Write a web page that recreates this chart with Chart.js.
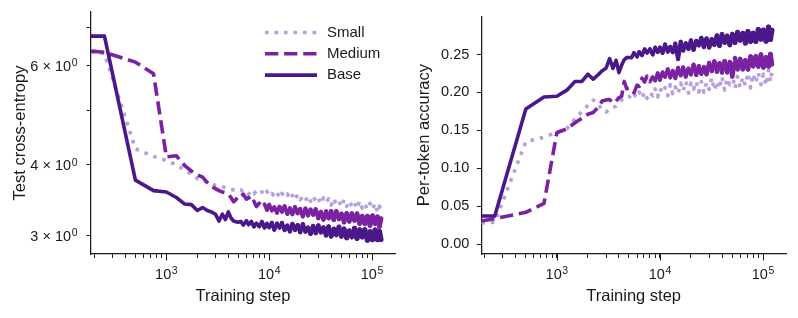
<!DOCTYPE html>
<html>
<head>
<meta charset="utf-8">
<script src="https://cdn.jsdelivr.net/npm/chart.js@4.4.1/dist/chart.umd.min.js"></script>
<style>
  body { margin: 0; background: #fff; }
  #wrap { position: relative; width: 798px; height: 318px; }
  canvas { position: absolute; top: 0; }
  #loss { left: 0; }
  #acc { left: 400px; }
</style>
</head>
<body>
<div id="wrap">
  <canvas id="loss" width="400" height="318"></canvas>
  <canvas id="acc" width="398" height="318"></canvas>
</div>
<script>
// evaluation steps shared by every curve
const steps = [185, 250, 500, 750, 1000, 1250, 1500, 1750, 2000, 2250, 2500, 2750, 3000, 3250, 3500, 3750, 4000, 4250, 4500, 4750, 5000,
  5300, 5600, 6000, 6300, 6700, 7100, 7500, 8000, 8500, 9000, 9500, 10000, 10600, 11200, 11900, 12600, 13300, 14100, 15000, 15900,
  16800, 17800, 18900, 20000, 21200, 22500, 23800, 25200, 26700, 28300, 30000, 31800, 33700, 35700, 37800, 40000, 42400, 44900, 47600,
  50400, 53400, 56600, 60000, 63600, 67400, 71400, 75700, 80200, 85000, 90000, 95400, 101000, 107000, 113000, 118000, 122000];

// test cross-entropy
const lossSmall = [6.33, 6.30, 4.27, 4.14, 4.07, 4.00, 3.92, 3.85, 3.78, 3.76, 3.72, 3.70, 3.68, 3.67, 3.66, 3.64, 3.63, 3.62, 3.61, 3.60, 3.60,
  3.611, 3.573, 3.590, 3.551, 3.596, 3.552, 3.598, 3.557, 3.582, 3.532, 3.589, 3.524, 3.559, 3.519, 3.576, 3.493, 3.559, 3.508, 3.554, 3.476,
  3.532, 3.461, 3.545, 3.469, 3.509, 3.450, 3.525, 3.446, 3.521, 3.446, 3.494, 3.409, 3.496, 3.430, 3.482, 3.393, 3.488, 3.399, 3.443, 3.370,
  3.468, 3.376, 3.453, 3.380, 3.436, 3.345, 3.452, 3.349, 3.412, 3.334, 3.416, 3.337, 3.415, 3.301, 3.380, 3.305];
const lossMedium = [6.36, 6.33, 6.08, 5.80, 4.13, 4.15, 3.99, 3.90, 3.84, 3.805, 3.72, 3.66, 3.63, 3.60, 3.58, 3.57, 3.55, 3.50, 3.44, 3.47, 3.53,
  3.520, 3.547, 3.477, 3.502, 3.421, 3.448, 3.374, 3.419, 3.368, 3.405, 3.328, 3.397, 3.321, 3.365, 3.290, 3.370, 3.304, 3.378, 3.274, 3.350,
  3.271, 3.365, 3.283, 3.340, 3.241, 3.344, 3.255, 3.331, 3.264, 3.336, 3.219, 3.301, 3.201, 3.305, 3.218, 3.310, 3.196, 3.309, 3.207, 3.275,
  3.166, 3.281, 3.176, 3.279, 3.188, 3.278, 3.147, 3.244, 3.144, 3.243, 3.122, 3.249, 3.147, 3.234, 3.111, 3.212];
const lossBase = [6.76, 6.76, 3.757, 3.60, 3.58, 3.50, 3.41, 3.40, 3.32, 3.36, 3.32, 3.30, 3.27, 3.18, 3.27, 3.20, 3.30, 3.22, 3.18, 3.17, 3.165,
  3.173, 3.131, 3.181, 3.136, 3.173, 3.109, 3.149, 3.111, 3.170, 3.096, 3.146, 3.099, 3.158, 3.069, 3.148, 3.096, 3.157, 3.065, 3.122, 3.048,
  3.143, 3.067, 3.127, 3.039, 3.138, 3.048, 3.095, 3.019, 3.116, 3.028, 3.122, 3.038, 3.096, 3.001, 3.108, 2.988, 3.078, 3.006, 3.104, 2.988,
  3.080, 2.969, 3.055, 2.981, 3.087, 2.962, 3.068, 2.980, 3.069, 2.941, 3.044, 2.948, 3.065, 2.948, 3.046, 2.949];

// per-token accuracy
const accSmall = [0.028, 0.029, 0.135, 0.141, 0.1477, 0.152, 0.165, 0.175, 0.183, 0.190, 0.186, 0.176, 0.174, 0.178, 0.180, 0.182, 0.187, 0.190, 0.193, 0.195, 0.195,
  0.1913, 0.1972, 0.1931, 0.2003, 0.1923, 0.2004, 0.1922, 0.1998, 0.1954, 0.2046, 0.1940, 0.2056, 0.1990, 0.2063, 0.1956, 0.2105, 0.1983, 0.2073, 0.1986, 0.2125,
  0.2018, 0.2146, 0.1990, 0.2122, 0.2043, 0.2146, 0.2004, 0.2143, 0.2000, 0.2132, 0.2041, 0.2194, 0.2031, 0.2148, 0.2050, 0.2209, 0.2030, 0.2187, 0.2103, 0.2233,
  0.2051, 0.2211, 0.2066, 0.2198, 0.2093, 0.2255, 0.2058, 0.2243, 0.2124, 0.2262, 0.2103, 0.2241, 0.2092, 0.2294, 0.2143, 0.2273];
const accMedium = [0.0305, 0.0336, 0.042, 0.0537, 0.1468, 0.152, 0.160, 0.166, 0.1713, 0.1735, 0.180, 0.1886, 0.190, 0.1907, 0.186, 0.1886, 0.193, 0.195, 0.2145, 0.205, 0.2058,
  0.2045, 0.1995, 0.2096, 0.2079, 0.2188, 0.2137, 0.2216, 0.2142, 0.2205, 0.2154, 0.2252, 0.2165, 0.2264, 0.2207, 0.2304, 0.2198, 0.2284, 0.2189, 0.2324, 0.2226,
  0.2330, 0.2208, 0.2313, 0.2239, 0.2366, 0.2232, 0.2347, 0.2246, 0.2334, 0.2239, 0.2389, 0.2282, 0.2410, 0.2274, 0.2386, 0.2264, 0.2413, 0.2266, 0.2400, 0.2210,
  0.2455, 0.2306, 0.2441, 0.2306, 0.2423, 0.2305, 0.2473, 0.2346, 0.2474, 0.2343, 0.2498, 0.2331, 0.2461, 0.2345, 0.2503, 0.2369];
const accBase = [0.037, 0.037, 0.178, 0.194, 0.195, 0.203, 0.2145, 0.2145, 0.224, 0.2175, 0.223, 0.2287, 0.232, 0.2446, 0.2317, 0.2424, 0.226, 0.236, 0.243, 0.2459, 0.246,
  0.2460, 0.2521, 0.2471, 0.2535, 0.2490, 0.2570, 0.2523, 0.2571, 0.2500, 0.2591, 0.2532, 0.2591, 0.2521, 0.2632, 0.2538, 0.2602, 0.2530, 0.2644, 0.2440, 0.2668,
  0.2553, 0.2647, 0.2575, 0.2685, 0.2565, 0.2677, 0.2622, 0.2717, 0.2600, 0.2709, 0.2595, 0.2700, 0.2630, 0.2748, 0.2617, 0.2766, 0.2656, 0.2745, 0.2626, 0.2768,
  0.2657, 0.2794, 0.2689, 0.2779, 0.2650, 0.2804, 0.2673, 0.2781, 0.2673, 0.2830, 0.2703, 0.2821, 0.2677, 0.2860, 0.2700, 0.2820];

// ticks
const xTickValues = [200, 300, 400, 500, 600, 700, 800, 900, 1000, 2000, 3000, 4000, 5000, 6000, 7000, 8000, 9000, 10000,
  20000, 30000, 40000, 50000, 60000, 70000, 80000, 90000, 100000];
const xMajorTicks = [1000, 10000, 100000];
const xMajorExps = ['3', '4', '5'];
const lossTickValues = [3, 4, 5, 6, 7];
const lossTickBases = ['3 × 10', '4 × 10', '', '6 × 10', ''];
const lossTickExps = ['0', '0', '', '0', ''];
const accTickValues = [0, 0.05, 0.10, 0.15, 0.20, 0.25];

const FONT = "'Liberation Sans', Arial, sans-serif";
const INK = '#1a1a1a';
const colors = { small: '#b4a0dc', medium: '#7b22a3', base: '#4b188c' };
const dashes = { small: [3.6, 5.9], medium: [13.3, 5.8], base: [] };
// the dense noisy tail reads as a band: thicken it from this step on
const tailStart = { small: Infinity, medium: 9000, base: 5000 };
const tailGrow = { small: 0, medium: 1.2, base: 1.6 };

function series(label, key, values) {
  const ds = {
    label: label,
    data: steps.map((s, i) => ({ x: s, y: values[i] })),
    borderColor: colors[key],
    borderWidth: 3.6,
    borderDash: dashes[key],
    borderCapStyle: 'butt',
    borderJoinStyle: 'round',
    pointRadius: 0,
    tension: 0,
    fill: false
  };
  if (tailGrow[key] > 0) {
    const t0 = tailStart[key];
    ds.segment = {
      borderWidth: c => c.p0.parsed.x < t0 ? 3.6 : 3.6 + tailGrow[key] * (Math.log10(c.p0.parsed.x) - 3.7) / 1.39,
      borderCapStyle: c => c.p0.parsed.x < t0 ? 'butt' : 'round'
    };
  }
  return ds;
}

function xAxis() {
  return {
    type: 'logarithmic',
    min: 185,
    max: 167000,
    afterBuildTicks: s => { s.ticks = xTickValues.map(v => ({ value: v })); },
    afterFit: s => { s.height = 64; },
    ticks: { display: false, autoSkip: false, callback: () => '' },
    grid: { drawOnChartArea: false, drawTicks: true, tickLength: 4, tickColor: INK, tickWidth: 1 },
    border: { display: true, color: INK, width: 1.25 },
    title: { display: true, text: 'Training step', color: INK, font: { family: FONT, size: 16.5 }, padding: { top: 0, bottom: 12 } }
  };
}

// "10" with a raised exponent, like mathtext tick labels
function drawPow(ctx, base, exp, x, baseY, align) {
  ctx.font = '14.5px ' + FONT;
  const wb = ctx.measureText(base).width;
  ctx.font = '10.5px ' + FONT;
  const we = ctx.measureText(exp).width;
  const total = wb + 0.6 + we;
  const left = align === 'center' ? x - total / 2 : x - total;
  ctx.textAlign = 'left';
  ctx.textBaseline = 'alphabetic';
  ctx.fillStyle = INK;
  ctx.font = '14.5px ' + FONT;
  ctx.fillText(base, left, baseY);
  ctx.font = '10.5px ' + FONT;
  ctx.fillText(exp, left + wb + 0.6, baseY - 4.6);
}

const mathTicks = {
  id: 'mathTicks',
  afterDraw(chart) {
    const ctx = chart.ctx, sx = chart.scales.x;
    ctx.save();
    // longer marks for the decades
    ctx.strokeStyle = INK;
    ctx.lineWidth = 1;
    xMajorTicks.forEach((v, i) => {
      const px = Math.round(sx.getPixelForValue(v)) + 0.5;
      ctx.beginPath();
      ctx.moveTo(px, sx.top);
      ctx.lineTo(px, sx.top + 6.5);
      ctx.stroke();
      drawPow(ctx, '10', xMajorExps[i], sx.getPixelForValue(v), sx.top + 24.6, 'center');
    });
    if (chart.canvas.id === 'loss') {
      const sy = chart.scales.y;
      lossTickValues.forEach((v, i) => {
        if (lossTickBases[i]) drawPow(ctx, lossTickBases[i], lossTickExps[i], sy.right - 13.5, sy.getPixelForValue(v) + 5.6, 'right');
      });
    }
    ctx.restore();
  }
};

const legendBox = {
  id: 'legendBox',
  afterDraw(chart) {
    const ctx = chart.ctx;
    const sets = chart.data.datasets.slice().reverse();
    sets.forEach((d, i) => {
      const y = 32.5 + i * 21.3;
      ctx.save();
      ctx.strokeStyle = d.borderColor;
      ctx.lineWidth = 3.6;
      ctx.lineCap = 'butt';
      ctx.setLineDash(d.borderDash);
      ctx.beginPath();
      ctx.moveTo(265, y);
      ctx.lineTo(317, y);
      ctx.stroke();
      ctx.setLineDash([]);
      ctx.fillStyle = INK;
      ctx.font = '15px ' + FONT;
      ctx.textBaseline = 'middle';
      ctx.textAlign = 'left';
      ctx.fillText(d.label, 327, y);
      ctx.restore();
    });
  }
};

const common = {
  responsive: false,
  animation: false,
  devicePixelRatio: 1,
  plugins: { legend: { display: false }, tooltip: { enabled: false } }
};

new Chart(document.getElementById('loss'), {
  type: 'line',
  data: { datasets: [series('Base', 'base', lossBase), series('Medium', 'medium', lossMedium), series('Small', 'small', lossSmall)] },
  options: Object.assign({}, common, {
    layout: { padding: { left: 0, right: 5, top: 12, bottom: 0 } },
    scales: {
      x: xAxis(),
      y: {
        type: 'logarithmic',
        min: 2.78,
        max: 7.46,
        afterBuildTicks: s => { s.ticks = lossTickValues.map(v => ({ value: v })); },
        afterFit: s => { s.width = 91; },
        ticks: { display: false, autoSkip: false, callback: () => '' },
        grid: { drawOnChartArea: false, drawTicks: true, tickLength: 4.5, tickColor: INK, tickWidth: 1 },
        border: { display: true, color: INK, width: 1.25 },
        title: { display: true, text: 'Test cross-entropy', color: INK, font: { family: FONT, size: 16.5 }, padding: { top: 11, bottom: 0 } }
      }
    }
  }),
  plugins: [mathTicks, legendBox]
});

new Chart(document.getElementById('acc'), {
  type: 'line',
  data: { datasets: [series('Base', 'base', accBase), series('Medium', 'medium', accMedium), series('Small', 'small', accSmall)] },
  options: Object.assign({}, common, {
    layout: { padding: { left: 0, right: 12, top: 12, bottom: 0 } },
    scales: {
      x: xAxis(),
      y: {
        type: 'linear',
        min: -0.013,
        max: 0.3005,
        afterBuildTicks: s => { s.ticks = accTickValues.map(v => ({ value: v })); },
        afterFit: s => { s.width = 81.3; },
        ticks: {
          autoSkip: false, padding: 7.5, color: INK, font: { family: FONT, size: 14.5 },
          callback: v => v.toFixed(2)
        },
        grid: { drawOnChartArea: false, drawTicks: true, tickLength: 4.5, tickColor: INK, tickWidth: 1 },
        border: { display: true, color: INK, width: 1.25 },
        title: { display: true, text: 'Per-token accuracy', color: INK, font: { family: FONT, size: 16.5 }, padding: { top: 15, bottom: 0 } }
      }
    }
  }),
  plugins: [mathTicks]
});
</script>
</body>
</html>
